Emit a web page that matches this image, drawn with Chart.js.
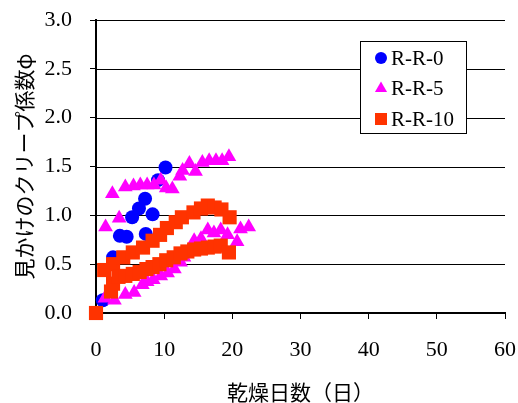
<!DOCTYPE html>
<html>
<head>
<meta charset="utf-8">
<script src="https://cdn.jsdelivr.net/npm/chart.js@4.4.1/dist/chart.umd.min.js"></script>
<style>
    html, body { margin: 0; padding: 0; background: #fff; }
    #wrap { position: relative; width: 518px; height: 403px; }
    #rules { position: absolute; left: 0; top: 0; width: 518px; height: 403px; z-index: 0; }
    #rules div { position: absolute; height: 1px; background: #000; }
    #creepChart { position: absolute; left: 0; top: 0; z-index: 1; }
</style>
</head>
<body>
<div id="wrap">
    <div id="rules"></div>
    <canvas id="creepChart" width="518" height="403"></canvas>
</div>
<script>
// drying days / apparent creep coefficient, two specimens per mix
const seriesNames = ['R-R-0', 'R-R-5', 'R-R-10'];

const rr0Days = [0, 1, 2.5, 3.5, 4.5, 5.3, 6.3, 7.2, 7.3, 8.3, 9.1, 10.2];
const rr0Phi  = [0, 0.13, 0.57, 0.79, 0.78, 0.98, 1.07, 1.17, 0.81, 1.01, 1.36, 1.49];

const rr5Days = [1.4, 2.4, 3.4, 4.3, 5.5, 6.5, 7.5, 8.5, 9.5, 10.3, 11.2, 12.3, 12.7, 13.7, 14.6, 15.6, 16.6, 17.6, 18.5, 19.5,
                 1.3, 2.7, 4.3, 5.6, 6.8, 7.5, 8.4, 9.5, 10.5, 11.5, 12.4, 12.9, 14.4, 15.4, 16.4, 17.3, 18.3, 19.3, 20.7, 21.2, 22.4];
const rr5Phi  = [0.88, 1.22, 0.97, 1.29, 1.30, 1.31, 1.31, 1.31, 1.36, 1.28, 1.27, 1.40, 1.46, 1.53, 1.45, 1.54, 1.56, 1.56, 1.56, 1.60,
                 0.15, 0.13, 0.19, 0.21, 0.29, 0.32, 0.34, 0.38, 0.41, 0.45, 0.52, 0.57, 0.74, 0.76, 0.85, 0.82, 0.85, 0.80, 0.73, 0.86, 0.88];

const rr10Days = [0, 1.2, 2.5, 4, 5.4, 6.9, 8.3, 9.4, 10.4, 11.7, 12.6, 14.3, 15.4, 16.4, 17.4, 18.4, 19.6,
                  2.2, 2.5, 3.3, 4.3, 5.4, 6.4, 7.4, 8.3, 9.3, 10.3, 11.4, 12.4, 13.4, 14.4, 15.4, 16.4, 17.4, 18.3, 19.5];
const rr10Phi  = [0, 0.44, 0.50, 0.57, 0.62, 0.67, 0.74, 0.80, 0.87, 0.93, 0.98, 1.03, 1.07, 1.10, 1.08, 1.06, 0.98,
                  0.22, 0.30, 0.37, 0.38, 0.40, 0.42, 0.45, 0.47, 0.50, 0.54, 0.57, 0.61, 0.63, 0.65, 0.66, 0.67, 0.68, 0.69, 0.62];

const xTicks = [0, 10, 20, 30, 40, 50, 60];
const yTicks = [0, 0.5, 1.0, 1.5, 2.0, 2.5, 3.0];

function toPoints(xs, ys) {
    return xs.map((x, i) => ({ x: x, y: ys[i] }));
}

const serif = 'Liberation Serif, Times New Roman, serif';
const gothic = 'Noto Sans CJK JP, sans-serif';

// framed legend inside the plot, top right
const boxLegend = {
    id: 'boxLegend',
    afterDraw(chart) {
        const ctx = chart.ctx;
        const left = 360, top = 41, w = 106, h = 92;
        ctx.save();
        ctx.fillStyle = '#fff';
        ctx.fillRect(left, top, w, h);
        ctx.strokeStyle = '#000';
        ctx.lineWidth = 1;
        ctx.strokeRect(left + 0.5, top + 0.5, w, h);
        ctx.font = '21px ' + serif;
        ctx.textBaseline = 'middle';
        chart.data.datasets.forEach((ds, i) => {
            const cy = top + 17 + i * 30.5;
            ctx.fillStyle = ds.backgroundColor;
            Chart.helpers.drawPoint(ctx, {
                pointStyle: ds.pointStyle,
                radius: ds.legendRadius,
                borderWidth: 0,
                rotation: 0
            }, left + 21, cy);
            ctx.fillStyle = '#000';
            ctx.fillText(ds.label, left + 31, cy + 1);
        });
        ctx.restore();
    }
};

const ctx = document.getElementById('creepChart').getContext('2d');
const creepChart = new Chart(ctx, {
    type: 'scatter',
    data: {
        datasets: [{
            label: seriesNames[0],
            data: toPoints(rr0Days, rr0Phi),
            pointStyle: 'circle',
            pointRadius: 7,
            legendRadius: 6,
            backgroundColor: '#0000FF',
            borderWidth: 0,
            clip: false,
            order: 3
        }, {
            label: seriesNames[1],
            data: toPoints(rr5Days, rr5Phi),
            pointStyle: 'triangle',
            pointRadius: 8.5,
            legendRadius: 7,
            backgroundColor: '#FF00FF',
            borderWidth: 0,
            clip: false,
            order: 2
        }, {
            label: seriesNames[2],
            data: toPoints(rr10Days, rr10Phi),
            pointStyle: 'rect',
            pointRadius: 10,
            legendRadius: 8.5,
            backgroundColor: '#FF3300',
            borderWidth: 0,
            clip: false,
            order: 1
        }]
    },
    options: {
        responsive: false,
        animation: false,
        devicePixelRatio: 1,
        layout: { padding: { top: 20, right: 13, bottom: 0, left: 0 } },
        plugins: {
            legend: { display: false },
            tooltip: { enabled: false }
        },
        scales: {
            x: {
                type: 'linear',
                min: xTicks[0],
                max: xTicks[xTicks.length - 1],
                afterFit: scale => {
                    scale.height = 90;
                    scale.paddingLeft = 0;
                    scale.paddingRight = 0;
                },
                ticks: {
                    stepSize: xTicks[1] - xTicks[0],
                    padding: 18,
                    color: '#000',
                    font: { family: serif, size: 22 }
                },
                grid: {
                    drawOnChartArea: false,
                    drawTicks: true,
                    tickLength: 6,
                    color: '#000',
                    lineWidth: 1
                },
                border: { display: true, color: '#000', width: 2 },
                title: {
                    display: true,
                    text: '乾燥日数（日）',
                    color: '#000',
                    padding: { top: 0, bottom: 0 },
                    font: { family: gothic, size: 21, lineHeight: 1 }
                }
            },
            y: {
                type: 'linear',
                min: yTicks[0],
                max: yTicks[yTicks.length - 1],
                afterFit: scale => {
                    scale.width = 96;
                    scale.paddingTop = 0;
                    scale.paddingBottom = 0;
                },
                ticks: {
                    stepSize: yTicks[1] - yTicks[0],
                    padding: 18,
                    color: '#000',
                    font: { family: serif, size: 22 },
                    callback: v => v.toFixed(1)
                },
                grid: {
                    drawOnChartArea: false,
                    drawTicks: true,
                    tickLength: 6,
                    color: '#000',
                    lineWidth: 1
                },
                border: { display: true, color: '#000', width: 2 },
                title: {
                    display: true,
                    text: '見かけのクリープ係数φ',
                    color: '#000',
                    padding: { top: 14, bottom: 0 },
                    font: { family: gothic, size: 21, lineHeight: 1 }
                }
            }
        }
    },
    plugins: [boxLegend]
});

// horizontal rules behind the (transparent) canvas, one per y tick
const area = creepChart.chartArea;
const rules = document.getElementById('rules');
yTicks.forEach(v => {
    const rule = document.createElement('div');
    rule.style.left = area.left + 'px';
    rule.style.width = (area.right - area.left) + 'px';
    rule.style.top = Math.round(creepChart.scales.y.getPixelForValue(v)) + 'px';
    rules.appendChild(rule);
});
</script>
</body>
</html>
